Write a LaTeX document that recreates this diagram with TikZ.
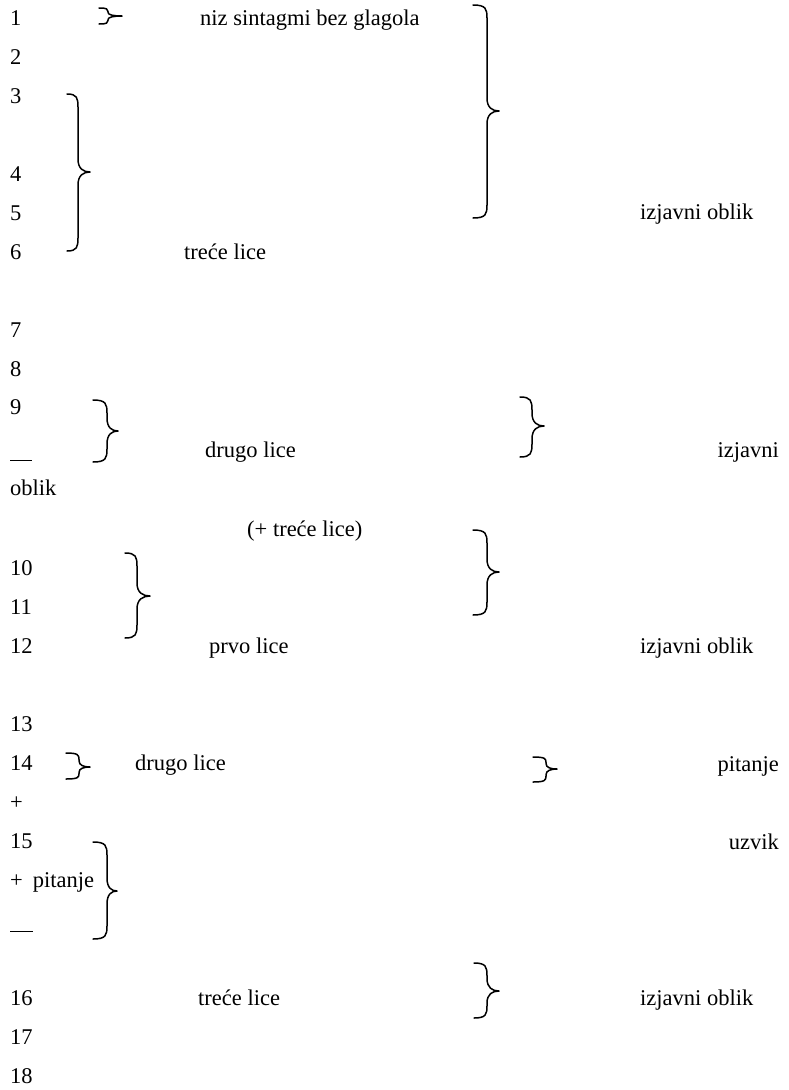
\documentclass[tikz,border=0pt]{standalone}
\usepackage{fontspec}
\setmainfont{Liberation Serif}
\newcommand\wbrace[6]{%
  \pgfmathsetmacro\bra{min(13,0.45*(#5-#4))}%
  \pgfmathsetmacro\brb{min(13,0.45*(#6-#5))}%
  \pgfmathsetmacro\bxm{#2+0.45*(#3-#2)}%
  \draw[bracestyle] (#1,#4) .. controls (#2-1,#4) and (#2,#4+0.3*\bra) .. (#2,#4+\bra) -- (#2,#5-\bra)
    .. controls (#2,#5-0.25*\bra) and (\bxm,#5) .. (#3,#5)
    .. controls (\bxm,#5) and (#2,#5+0.25*\brb) .. (#2,#5+\brb)
    -- (#2,#6-\brb) .. controls (#2,#6-0.3*\brb) and (#2-1,#6) .. (#1,#6);%
}
\tikzset{
  lbl/.style={inner sep=0pt, anchor=base west, font=\fontsize{22.5}{27}\selectfont},
  rlbl/.style={lbl, anchor=base east},
  bracestyle/.style={line width=1.5pt, line cap=round, line join=round},
  rulestyle/.style={line width=1pt}
}
\begin{document}
\begin{tikzpicture}[x=1pt,y=-1pt]
\useasboundingbox[fill=white] (0,0) rectangle (788,1090);
% numbers column
\node[lbl] (n1) at (10,25) {1};
\node[lbl] (n2) at (10,64) {2};
\node[lbl] (n3) at (10,103) {3};
\node[lbl] (n4) at (10,181) {4};
\node[lbl] (n5) at (10,220) {5};
\node[lbl] (n6) at (10,259) {6};
\node[lbl] (n7) at (10,337) {7};
\node[lbl] (n8) at (10,376) {8};
\node[lbl] (n9) at (10,414) {9};
\node[lbl] (ob) at (10,495) {oblik};
\node[lbl] (n10) at (10,575) {10};
\node[lbl] (n11) at (10,614) {11};
\node[lbl] (n12) at (10,653) {12};
\node[lbl] (n13) at (10,731) {13};
\node[lbl] (n14) at (10,770) {14};
\node[lbl] (pl1) at (10,809) {+};
\node[lbl] (n15) at (10,848) {15};
\node[lbl] (pl2) at (10,887) {+\hspace{10pt}pitanje};
\node[lbl] (n16) at (10,1005) {16};
\node[lbl] (n17) at (10,1044) {17};
\node[lbl] (n18) at (10,1083) {18};
% short rules
\draw[rulestyle] (10,460) -- (32,460);
\draw[rulestyle] (10,931) -- (33,931);
% middle labels
\node[lbl] (t1) at (200,25) {niz sintagmi bez glagola};
\node[lbl] (t2) at (184,259) {treće lice};
\node[lbl] (t3) at (205,457) {drugo lice};
\node[lbl] (t4) at (247,536) {(+ treće lice)};
\node[lbl] (t5) at (209,653) {prvo lice};
\node[lbl] (t6) at (135,770) {drugo lice};
\node[lbl] (t7) at (198,1005) {treće lice};
% right labels
\node[lbl] (r1) at (640,219) {izjavni oblik};
\node[rlbl] (r2) at (779,457) {izjavni};
\node[lbl] (r3) at (640,653) {izjavni oblik};
\node[rlbl] (r4) at (779,771) {pitanje};
\node[rlbl] (r5) at (779,849) {uzvik};
\node[lbl] (r6) at (640,1005) {izjavni oblik};
% braces: xl xs xt ytop ytip ybot
\wbrace{99}{108}{122}{8}{16}{24}
\wbrace{67}{78}{90}{94}{172}{251}
\wbrace{473}{487}{499}{5}{111}{218}
\wbrace{93}{107}{118}{400}{431}{462}
\wbrace{520}{532}{544}{397}{426}{457}
\wbrace{125}{137}{150}{553}{596}{638}
\wbrace{473}{487}{499}{530}{572}{615}
\wbrace{66}{79}{90}{753}{767}{779}
\wbrace{533}{546}{557}{757}{769}{782}
\wbrace{93}{107}{117}{842}{891}{939}
\wbrace{474}{487}{499}{963}{991}{1018}
\end{tikzpicture}
\end{document}
